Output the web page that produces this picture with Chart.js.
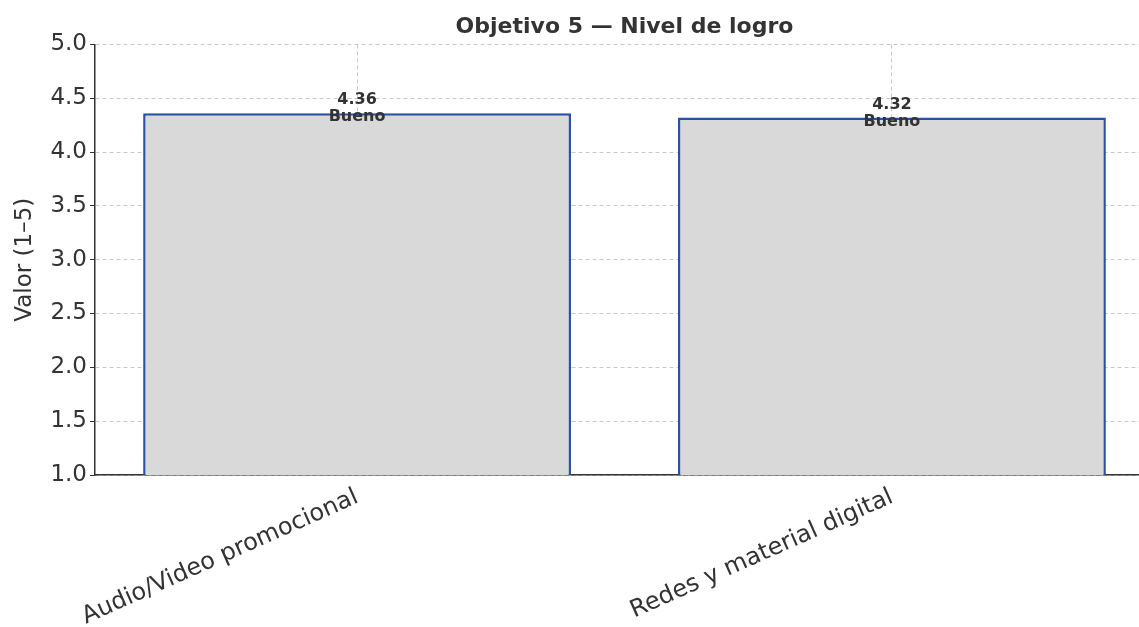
<!DOCTYPE html>
<html>
<head>
<meta charset="utf-8">
<script src="https://cdn.jsdelivr.net/npm/chart.js@4"></script>
<style>
  html, body { margin: 0; padding: 0; background: #fff; overflow: hidden; }
  #wrap { width: 1139px; height: 627px; overflow: hidden; }
</style>
</head>
<body>
<div id="wrap"><canvas id="grafica" width="1160" height="627"></canvas></div>
<script>
// datos del grafico
const categorias = ['Audio/Video promocional', 'Redes y material digital'];
const valores = [4.36, 4.32];
const niveles = ['Bueno', 'Bueno'];
const yMin = 1, yMax = 5, yPaso = 0.5;

const fuente = 'DejaVu Sans';

// etiquetas encima de cada barra
const etiquetas = {
  id: 'etiquetas',
  afterDatasetsDraw(chart) {
    const ctx = chart.ctx;
    const meta = chart.getDatasetMeta(0);
    ctx.save();
    ctx.font = 'bold 16px "' + fuente + '"';
    ctx.fillStyle = '#333';
    ctx.textAlign = 'center';
    ctx.textBaseline = 'middle';
    meta.data.forEach((barra, i) => {
      ctx.fillText(valores[i].toFixed(2), barra.x, barra.y - 13);
      ctx.fillText(niveles[i], barra.x, barra.y + 4);
    });
    ctx.restore();
  }
};

let micanvas = document.getElementById('grafica').getContext('2d');
var chart = new Chart(micanvas, {
  type: 'bar',
  data: {
    datasets: [{
      data: valores.map((v, i) => ({ x: i, y: v })),
      backgroundColor: '#d9d9d9',
      borderColor: '#2a52a0',
      borderWidth: 2.5,
      borderSkipped: false,
      categoryPercentage: 1,
      barPercentage: 0.8
    }]
  },
  options: {
    responsive: false,
    animation: false,
    devicePixelRatio: 1,
    layout: { padding: { left: 0, right: 6, top: 0, bottom: 0 } },
    plugins: {
      legend: { display: false },
      tooltip: { enabled: false },
      title: {
        display: true,
        fullSize: false,
        text: 'Objetivo 5 — Nivel de logro',
        color: '#333',
        font: { family: fuente, size: 22, weight: 'bold' },
        padding: { top: 14, bottom: 4 }
      }
    },
    scales: {
      x: {
        type: 'linear',
        min: -0.49,
        max: 1.49,
        offset: false,
        afterBuildTicks: (eje) => { eje.ticks = categorias.map((c, i) => ({ value: i })); },
        afterFit: (eje) => { eje.height = 152; },
        grid: {
          offset: false,
          color: '#c8c8c8',
          drawTicks: false
        },
        border: { color: '#333', width: 1.5, dash: [4, 3] },
        ticks: {
          autoSkip: false,
          minRotation: 24,
          maxRotation: 24,
          padding: 8,
          color: '#333',
          font: { family: fuente, size: 24 },
          callback: (v, i) => categorias[i]
        }
      },
      y: {
        min: yMin,
        max: yMax,
        afterFit: (eje) => { eje.width = 95; },
        grid: {
          color: '#c8c8c8',
          tickLength: 5,
          tickColor: '#333',
          tickBorderDash: []
        },
        border: { color: '#333', width: 1.5, dash: [4, 3] },
        ticks: {
          stepSize: yPaso,
          padding: 3,
          color: '#333',
          font: { family: fuente, size: 23 },
          callback: (v) => v.toFixed(1)
        },
        title: {
          display: true,
          text: 'Valor (1–5)',
          color: '#333',
          font: { family: fuente, size: 23 },
          padding: { top: 11, bottom: 0 }
        }
      }
    }
  },
  plugins: [etiquetas]
});
</script>
</body>
</html>
